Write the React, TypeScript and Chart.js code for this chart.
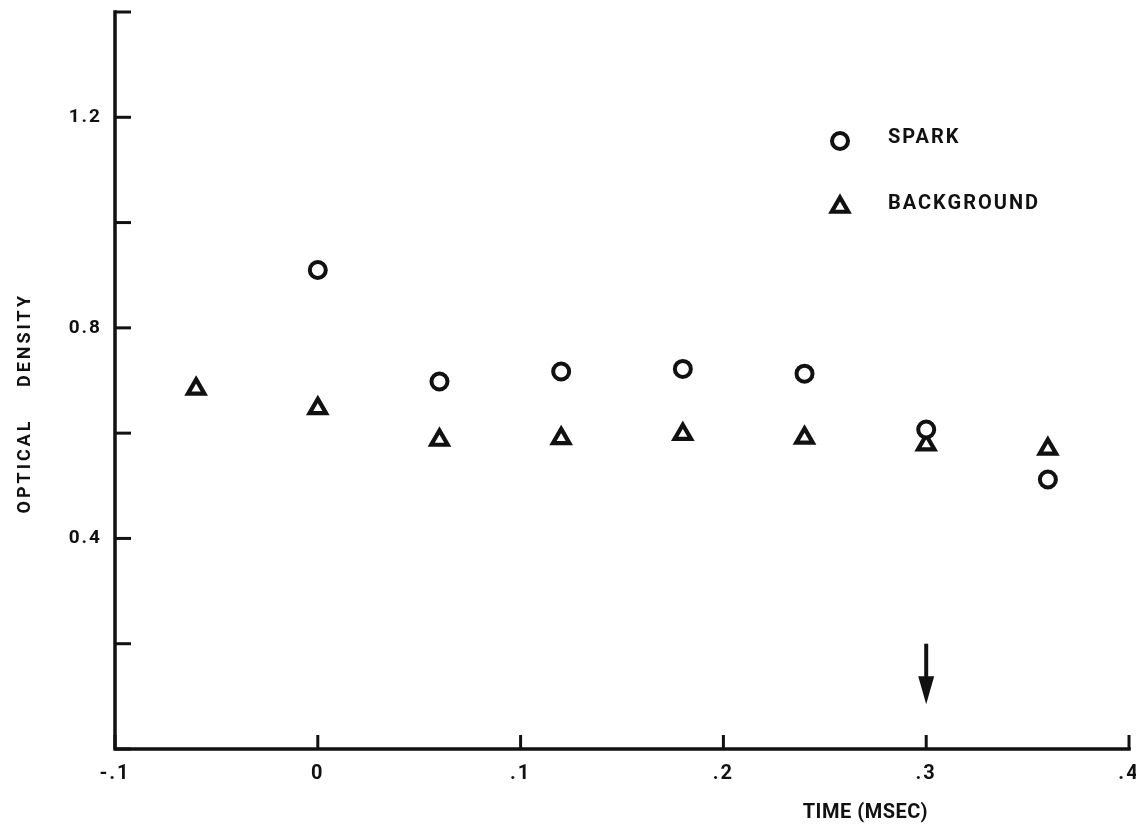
import React, { useEffect, useRef } from 'react';
import { Chart, registerables } from 'chart.js';
import { drawPoint } from 'chart.js/helpers';

Chart.register(...registerables);

// ---- data ----
const SPARK_TIME = [0, 0.06, 0.12, 0.18, 0.24, 0.30, 0.36];
const SPARK_OD = [0.91, 0.698, 0.717, 0.722, 0.713, 0.607, 0.512];

const BACKGROUND_TIME = [-0.06, 0, 0.06, 0.12, 0.18, 0.24, 0.30, 0.36];
const BACKGROUND_OD = [0.684, 0.647, 0.587, 0.59, 0.598, 0.591, 0.578, 0.57];

const X_TICK_VALUES = [-0.1, 0, 0.1, 0.2, 0.3, 0.4];
const X_TICK_LABELS = ['-.1', '0', '.1', '.2', '.3', '.4'];
const Y_TICK_VALUES = [0, 0.2, 0.4, 0.6, 0.8, 1.0, 1.2, 1.4];
const Y_TICK_LABELS = ['', '', '0.4', '', '0.8', '', '1.2', ''];

const SERIES_NAMES = ['SPARK', 'BACKGROUND'];
const X_TITLE = 'TIME (MSEC)';
const Y_TITLE_WORDS = ['OPTICAL', 'DENSITY'];

// arrow marking t = .3 msec
const ARROW_TIME = 0.3;
const ARROW_FROM = 0.2;
const ARROW_TO = 0.085;

const INK = '#111111';
const FONT = 'Roboto, "DejaVu Sans", sans-serif';

const paperPlugin = {
  id: 'paper',
  beforeDraw(chart: any) {
    const { ctx, width, height } = chart;
    ctx.save();
    ctx.fillStyle = '#ffffff';
    ctx.fillRect(0, 0, width, height);
    ctx.restore();
    (ctx as any).letterSpacing = '2px';
  },
  afterDraw(chart: any) {
    const { ctx, chartArea } = chart;
    const xs = chart.scales.x;
    const ys = chart.scales.y;
    ctx.save();
    ctx.strokeStyle = INK;
    ctx.fillStyle = INK;
    ctx.lineCap = 'square';
    ctx.lineWidth = 3.5;

    // axes lines
    ctx.beginPath();
    ctx.moveTo(chartArea.left, chartArea.top);
    ctx.lineTo(chartArea.left, chartArea.bottom);
    ctx.lineTo(chartArea.right, chartArea.bottom);
    ctx.stroke();

    // inward ticks
    ctx.lineCap = 'butt';
    ctx.lineWidth = 3;
    ys.ticks.forEach((t: any) => {
      const py = ys.getPixelForValue(t.value);
      ctx.beginPath();
      ctx.moveTo(chartArea.left, py);
      ctx.lineTo(chartArea.left + 16, py);
      ctx.stroke();
    });
    xs.ticks.forEach((t: any) => {
      const px = xs.getPixelForValue(t.value);
      ctx.beginPath();
      ctx.moveTo(px, chartArea.bottom);
      ctx.lineTo(px, chartArea.bottom - 14);
      ctx.stroke();
    });

    // arrow
    const ax = xs.getPixelForValue(ARROW_TIME);
    const ay0 = ys.getPixelForValue(ARROW_FROM);
    const ay1 = ys.getPixelForValue(ARROW_TO);
    ctx.lineWidth = 4;
    ctx.beginPath();
    ctx.moveTo(ax, ay0);
    ctx.lineTo(ax, ay1 - 20);
    ctx.stroke();
    ctx.beginPath();
    ctx.moveTo(ax - 8, ay1 - 28);
    ctx.lineTo(ax + 8, ay1 - 28);
    ctx.lineTo(ax, ay1);
    ctx.closePath();
    ctx.fill();

    // x-axis title
    (ctx as any).letterSpacing = '0.5px';
    ctx.font = `bold 20px ${FONT}`;
    ctx.textAlign = 'center';
    ctx.textBaseline = 'middle';
    ctx.fillText(X_TITLE, chartArea.left + chartArea.width * 0.74, 813);

    // y-axis title (two spaced words, rotated)
    ctx.save();
    (ctx as any).letterSpacing = '3px';
    ctx.font = `bold 18px ${FONT}`;
    ctx.translate(25, 0);
    ctx.rotate(-Math.PI / 2);
    ctx.textAlign = 'center';
    ctx.fillText(Y_TITLE_WORDS[0], -466, 0);
    ctx.fillText(Y_TITLE_WORDS[1], -340, 0);
    ctx.restore();

    // legend
    (ctx as any).letterSpacing = '2px';
    ctx.font = `bold 20px ${FONT}`;
    const lx = chartArea.left + chartArea.width * 0.715;
    const ly = [141, 207];
    chart.data.datasets.forEach((ds: any, i: number) => {
      ctx.save();
      ctx.fillStyle = '#ffffff';
      ctx.strokeStyle = INK;
      ctx.lineWidth = ds.borderWidth;
      drawPoint(ctx, { pointStyle: ds.pointStyle, radius: ds.pointRadius, borderWidth: ds.borderWidth, rotation: 0 } as any, lx, ly[i]);
      ctx.restore();
      ctx.fillStyle = INK;
      ctx.textAlign = 'left';
      ctx.fillText(SERIES_NAMES[i], lx + 48, ly[i] - 3);
    });

    ctx.restore();
    (ctx as any).letterSpacing = '0px';
  },
};

export default function App() {
  const canvasRef = useRef<HTMLCanvasElement | null>(null);

  useEffect(() => {
    document.body.style.margin = '0';
    const canvas = canvasRef.current;
    if (!canvas) return;
    const chart = new Chart(canvas, {
      type: 'scatter',
      data: {
        datasets: [
          {
            label: SERIES_NAMES[0],
            data: SPARK_TIME.map((t, i) => ({ x: t, y: SPARK_OD[i] })),
            pointStyle: 'circle',
            pointRadius: 8,
            borderWidth: 4,
            borderColor: INK,
            backgroundColor: '#ffffff',
          },
          {
            label: SERIES_NAMES[1],
            data: BACKGROUND_TIME.map((t, i) => ({ x: t, y: BACKGROUND_OD[i] })),
            pointStyle: 'triangle',
            pointRadius: 9.5,
            borderWidth: 4.2,
            borderColor: INK,
            backgroundColor: '#ffffff',
          },
        ],
      },
      options: {
        animation: false,
        responsive: true,
        maintainAspectRatio: false,
        layout: { autoPadding: false, padding: { top: 12, right: 7, left: 0, bottom: 0 } },
        plugins: {
          legend: { display: false },
          tooltip: { enabled: false },
        },
        scales: {
          x: {
            type: 'linear',
            min: X_TICK_VALUES[0],
            max: X_TICK_VALUES[X_TICK_VALUES.length - 1],
            afterBuildTicks: (scale: any) => {
              scale.ticks = X_TICK_VALUES.map((v) => ({ value: v }));
            },
            afterFit: (scale: any) => {
              scale.height = 76;
              scale.paddingLeft = 0;
              scale.paddingRight = 0;
            },
            border: { display: false },
            grid: { display: false, drawTicks: false },
            ticks: {
              autoSkip: false,
              maxRotation: 0,
              padding: 13,
              color: INK,
              font: { family: FONT, size: 20, weight: 'bold' },
              callback: (_v: any, i: number) => X_TICK_LABELS[i],
            },
          },
          y: {
            type: 'linear',
            min: Y_TICK_VALUES[0],
            max: Y_TICK_VALUES[Y_TICK_VALUES.length - 1],
            afterBuildTicks: (scale: any) => {
              scale.ticks = Y_TICK_VALUES.map((v) => ({ value: v }));
            },
            afterFit: (scale: any) => {
              scale.width = 115;
              scale.paddingTop = 0;
              scale.paddingBottom = 0;
            },
            border: { display: false },
            grid: { display: false, drawTicks: false },
            title: { display: false },
            ticks: {
              autoSkip: false,
              padding: 13,
              color: INK,
              font: { family: FONT, size: 19, weight: 'bold' },
              callback: (_v: any, i: number) => Y_TICK_LABELS[i],
            },
          },
        },
      },
      plugins: [paperPlugin],
    });
    return () => chart.destroy();
  }, []);

  return (
    <div style={{ position: 'absolute', left: 0, top: 0, width: 1136, height: 825, background: '#fff' }}>
      <canvas ref={canvasRef} />
    </div>
  );
}
